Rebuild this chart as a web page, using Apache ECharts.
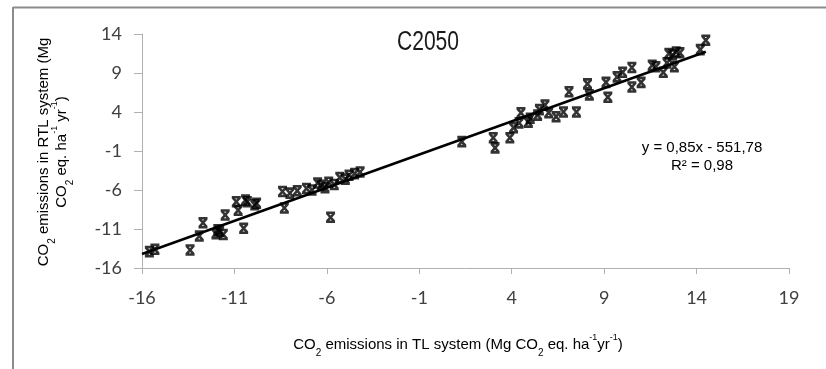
<!DOCTYPE html>
<html>
<head>
<meta charset="utf-8">
<script src="https://cdn.jsdelivr.net/npm/echarts@6/dist/echarts.min.js"></script>
<style>
  html, body { margin: 0; padding: 0; background: #fff; }
  #chart { width: 826px; height: 369px; }
</style>
</head>
<body>
<div id="chart"></div>
<script>
// TL vs RTL emissions, scenario C2050 (Mg CO2 eq. ha-1 yr-1)
const tlEmissions = [
  -15.6, -15.3, -13.4, -12.9, -12.7, -12.0, -11.8, -11.6, -11.9, -11.5,
  -10.9, -10.4, -9.9, -10.5, -10.8, -10.3, -9.8,
  -8.4, -8.3, -8.0, -7.6, -7.1, -6.8, -6.5, -6.3, -6.1, -5.9, -5.6, -5.8,
  -5.3, -5.0, -4.8, -4.5, -4.2,
  1.3, 3.0, 3.1, 3.9, 4.1, 4.4, 4.5, 4.9, 5.0, 5.4, 5.5, 5.8, 6.0, 6.4,
  6.8, 7.5, 7.1, 8.1, 8.2, 9.2, 9.1, 9.7, 10.0, 10.5, 10.5, 11.0, 11.6,
  11.8, 12.2, 12.4, 12.5, 12.7, 12.9, 13.1, 12.8, 14.2, 14.5
];
const rtlEmissions = [
  -13.9, -13.6, -13.7, -11.9, -10.2, -11.6, -11.3, -11.7, -11.1, -9.2,
  -7.5, -7.3, -7.9, -10.9, -8.6, -7.5, -7.7,
  -6.2, -8.3, -6.4, -6.1, -5.8, -6.0, -5.1, -5.4, -5.7, -5.0, -5.3, -9.5,
  -4.4, -4.6, -4.1, -3.9, -3.7,
  0.2, 0.7, -0.6, 0.7, 2.0, 2.6, 3.9, 2.7, 3.2, 3.6, 4.3, 4.9, 3.9, 3.4,
  4.0, 4.0, 6.6, 7.6, 6.2, 5.9, 7.8, 8.5, 9.1, 9.7, 7.2, 7.8, 10.0,
  9.8, 9.1, 10.3, 11.5, 11.3, 11.7, 11.6, 9.8, 12.0, 13.2
];

// linear trend (slope from the fitted equation)
const trendSlope = 0.85;
const trendIntercept = -0.6;
const trendRange = [-16, 14.5];

const axisTicks = [-16, -11, -6, -1, 4, 9, 14, 19];
const xMin = -16, xMax = 19, yMin = -16, yMax = 14, tickStep = 5;

const points = tlEmissions.map((x, i) => [x, rtlEmissions[i]]);
const trendPoints = trendRange.map(x => [x, trendSlope * x + trendIntercept]);

// X marker with top and bottom bars
const crossBar = 'path://M0,0 L10,0 M0,10 L10,10 M1,0.5 L9,9.5 M9,0.5 L1,9.5';

const narrow = '"Liberation Sans Narrow", "Liberation Sans", Arial, sans-serif';
const tickFont = 'Lato, "Open Sans", sans-serif';

const rich = {
  n: { fontFamily: narrow, fontSize: 15, color: '#404040', lineHeight: 18 },
  s: { fontFamily: narrow, fontSize: 10, color: '#404040', verticalAlign: 'bottom', lineHeight: 18, padding: [0, 0, -4, 0] },
  p: { fontFamily: narrow, fontSize: 9, color: '#404040', verticalAlign: 'top', lineHeight: 18, padding: [-3, 0, 0, 0] }
};

const chart = echarts.init(document.getElementById('chart'), null, { renderer: 'canvas' });
chart.setOption({
  animation: false,
  backgroundColor: '#fff',
  grid: { left: 142, right: 37, top: 34, bottom: 101, containLabel: false },
  xAxis: {
    type: 'value', min: xMin, max: xMax, interval: tickStep,
    axisLine: { onZero: false, lineStyle: { color: '#b0b0b0', width: 1 } },
    axisTick: { show: true, length: 6, lineStyle: { color: '#b0b0b0' } },
    axisLabel: { margin: 21, fontFamily: tickFont, fontSize: 18, color: '#404040',
      formatter: v => axisTicks.includes(v) ? String(v) : '' },
    splitLine: { show: false }
  },
  yAxis: {
    type: 'value', min: yMin, max: yMax, interval: tickStep,
    axisLine: { show: true, onZero: false, lineStyle: { color: '#b0b0b0', width: 1 } },
    axisTick: { show: true, length: 8, lineStyle: { color: '#b0b0b0' } },
    axisLabel: { margin: 20, fontFamily: tickFont, fontSize: 18, color: '#404040' },
    splitLine: { show: false }
  },
  series: [
    {
      type: 'line', data: trendPoints, symbol: 'none', silent: true,
      lineStyle: { color: '#000', width: 2.5 }, z: 3
    },
    {
      type: 'scatter', data: points, symbol: crossBar, symbolSize: [9, 9],
      itemStyle: { color: 'transparent', borderColor: '#000', borderWidth: 2.6 }, z: 4
    }
  ],
  graphic: [
    // outer frame (top and left edges)
    { type: 'line', shape: { x1: 13, y1: 7.5, x2: 826, y2: 7.5 }, style: { stroke: '#8c8c8c', lineWidth: 2 } },
    { type: 'line', shape: { x1: 13, y1: 7, x2: 13, y2: 369 }, style: { stroke: '#8c8c8c', lineWidth: 2 } },
    {
      type: 'text', x: 428, y: 43, scaleX: 0.78,
      style: { text: 'C2050', fontFamily: narrow, fontSize: 27, fill: '#1a1a1a', align: 'center', verticalAlign: 'middle' }
    },
    {
      type: 'text', x: 53, y: 152, rotation: Math.PI / 2,
      style: {
        text: '{n|CO}{s|2}{n| emissions in RTL system (Mg}\n{n|CO}{s|2}{n| eq. ha}{p|-1}{n| yr}{p|-1}{n|)}',
        rich: rich, align: 'center', verticalAlign: 'middle'
      }
    },
    {
      type: 'text', x: 458, y: 345,
      style: {
        text: '{n|CO}{s|2}{n| emissions in TL system (Mg CO}{s|2}{n| eq. ha}{p|-1}{n|yr}{p|-1}{n|)}',
        rich: rich, align: 'center', verticalAlign: 'middle'
      }
    },
    {
      type: 'text', x: 702, y: 157,
      style: {
        text: '{n|y = 0,85x - 551,78}\n{n|R² = 0,98}',
        rich: rich, align: 'center', verticalAlign: 'middle'
      }
    }
  ]
});
</script>
</body>
</html>
